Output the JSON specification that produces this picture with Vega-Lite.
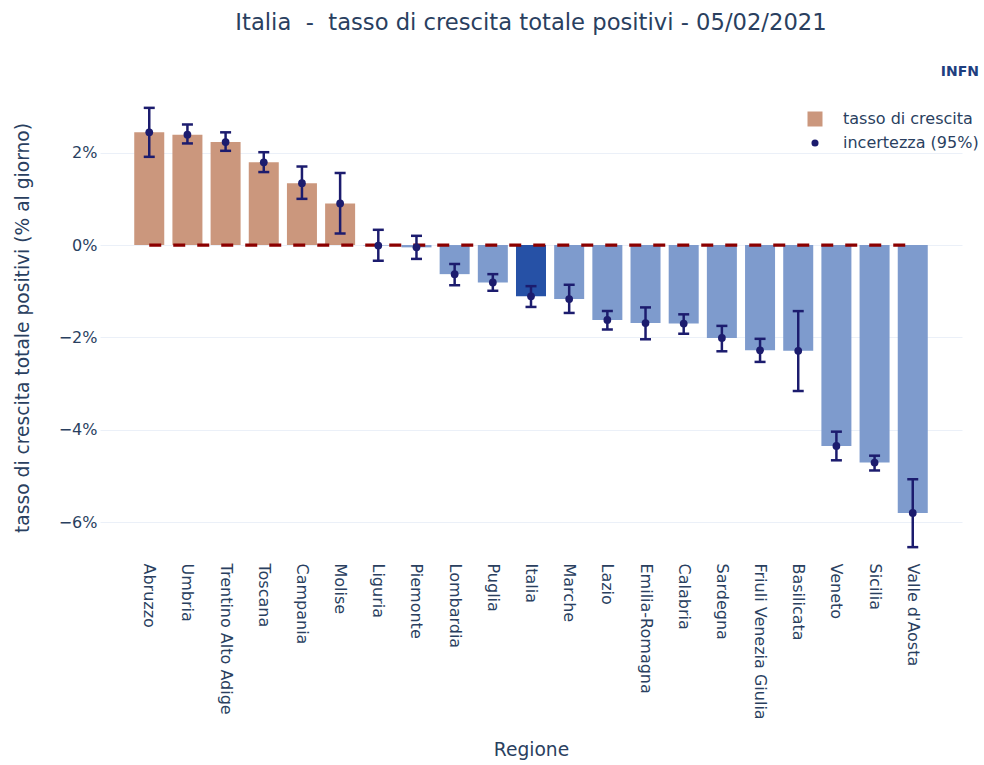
{
  "$schema": "https://vega.github.io/schema/vega-lite/v6.json",
  "width": 862,
  "height": 455,
  "autosize": {"type": "none"},
  "padding": {"left": 100, "top": 100, "right": 22, "bottom": 210},
  "background": "white",
  "title": {
    "text": "Italia\u00a0 -\u00a0 tasso di crescita totale positivi - 05/02/2021",
    "anchor": "middle",
    "font": "DejaVu Sans",
    "fontSize": 22.67,
    "fontWeight": "normal",
    "color": "#2a3f5f",
    "offset": 30
  },
  "config": {"view": {"stroke": null}, "font": "DejaVu Sans"},
  "data": {
    "values": [
      {"Regione": "Abruzzo", "tasso": 2.44, "lo": 1.91, "hi": 2.97},
      {"Regione": "Umbria", "tasso": 2.39, "lo": 2.20, "hi": 2.61},
      {"Regione": "Trentino Alto Adige", "tasso": 2.23, "lo": 2.04, "hi": 2.44},
      {"Regione": "Toscana", "tasso": 1.79, "lo": 1.58, "hi": 2.01},
      {"Regione": "Campania", "tasso": 1.34, "lo": 1.00, "hi": 1.70},
      {"Regione": "Molise", "tasso": 0.90, "lo": 0.25, "hi": 1.56},
      {"Regione": "Liguria", "tasso": -0.01, "lo": -0.34, "hi": 0.33},
      {"Regione": "Piemonte", "tasso": -0.05, "lo": -0.30, "hi": 0.20},
      {"Regione": "Lombardia", "tasso": -0.63, "lo": -0.87, "hi": -0.41},
      {"Regione": "Puglia", "tasso": -0.81, "lo": -0.99, "hi": -0.63},
      {"Regione": "Italia", "tasso": -1.11, "lo": -1.34, "hi": -0.89},
      {"Regione": "Marche", "tasso": -1.17, "lo": -1.47, "hi": -0.86},
      {"Regione": "Lazio", "tasso": -1.62, "lo": -1.83, "hi": -1.43},
      {"Regione": "Emilia-Romagna", "tasso": -1.69, "lo": -2.04, "hi": -1.35},
      {"Regione": "Calabria", "tasso": -1.70, "lo": -1.92, "hi": -1.50},
      {"Regione": "Sardegna", "tasso": -2.01, "lo": -2.30, "hi": -1.75},
      {"Regione": "Friuli Venezia Giulia", "tasso": -2.28, "lo": -2.53, "hi": -2.03},
      {"Regione": "Basilicata", "tasso": -2.29, "lo": -3.16, "hi": -1.43},
      {"Regione": "Veneto", "tasso": -4.35, "lo": -4.66, "hi": -4.04},
      {"Regione": "Sicilia", "tasso": -4.71, "lo": -4.88, "hi": -4.56},
      {"Regione": "Valle d'Aosta", "tasso": -5.80, "lo": -6.54, "hi": -5.07}
    ]
  },
  "encoding": {
    "x": {
      "field": "Regione",
      "type": "nominal",
      "sort": null,
      "scale": {"paddingInner": 0.214, "paddingOuter": 0.897},
      "axis": {
        "title": "Regione",
        "titleFont": "DejaVu Sans",
        "titleFontSize": 18.67,
        "titleFontWeight": "normal",
        "titleColor": "#2a3f5f",
        "titleY": 194,
        "titleBaseline": "middle",
        "labelAngle": 90,
        "labelAlign": "left",
        "labelBaseline": "middle",
        "labelFont": "DejaVu Sans",
        "labelFontSize": 16,
        "labelColor": "#2a3f5f",
        "labelPadding": 8,
        "ticks": false,
        "tickSize": 0,
        "domain": false,
        "grid": false
      }
    }
  },
  "layer": [
    {
      "mark": {"type": "bar", "opacity": 1},
      "encoding": {
        "y": {
          "field": "tasso",
          "type": "quantitative",
          "title": "tasso di crescita totale positivi (% al giorno)",
          "scale": {"domain": [-6.71, 3.14], "nice": false, "zero": false},
          "axis": {
            "title": "tasso di crescita totale positivi (% al giorno)",
            "titleFont": "DejaVu Sans",
            "titleFontSize": 18.67,
            "titleFontWeight": "normal",
            "titleColor": "#2a3f5f",
            "titleX": -78,
            "titleY": 227.5,
            "titleBaseline": "middle",
            "values": [-6, -4, -2, 0, 2],
            "labelExpr": "format(datum.value, 'd') + '%'",
            "labelFont": "DejaVu Sans",
            "labelFontSize": 16,
            "labelColor": "#2a3f5f",
            "labelPadding": 3,
            "ticks": false,
            "tickSize": 0,
            "domain": false,
            "grid": true,
            "gridColor": "#ebf0f8",
            "gridWidth": 1
          }
        },
        "color": {
          "condition": [
            {"test": "datum.Regione === 'Italia'", "value": "#2651a6"},
            {"test": "datum.tasso < 0", "value": "#7e9bcd"}
          ],
          "datum": "tasso di crescita",
          "scale": {
            "domain": ["tasso di crescita", "incertezza (95%)"],
            "range": ["#cb977d", "#1c1c6e"]
          },
          "legend": {
            "title": "INFN",
            "orient": "none",
            "legendX": 707,
            "legendY": -35,
            "titleAnchor": "end",
            "titleFont": "DejaVu Sans",
            "titleFontSize": 14,
            "titleFontWeight": "bold",
            "titleColor": "#1f3f7f",
            "titlePadding": 32,
            "labelFont": "DejaVu Sans",
            "labelFontSize": 16,
            "labelColor": "#2a3f5f",
            "labelOffset": 20,
            "symbolType": {"expr": "datum.value === 'incertezza (95%)' ? 'circle' : 'square'"},
            "symbolSize": {"expr": "datum.value === 'incertezza (95%)' ? 50 : 225"},
            "symbolStrokeWidth": 0,
            "rowPadding": 8,
            "padding": 0
          }
        }
      }
    },
    {
      "mark": {"type": "line", "color": "#8b0000", "strokeWidth": 3.3, "strokeDash": [12, 12]},
      "encoding": {
        "y": {"datum": 0, "type": "quantitative"},
        "order": {"value": null}
      }
    },
    {
      "mark": {"type": "rule", "color": "#1c1c6e", "strokeWidth": 2.5},
      "encoding": {
        "y": {"field": "lo", "type": "quantitative", "title": "tasso di crescita totale positivi (% al giorno)"},
        "y2": {"field": "hi"}
      }
    },
    {
      "mark": {"type": "tick", "color": "#1c1c6e", "thickness": 2.5, "size": 11, "orient": "horizontal", "opacity": 1},
      "encoding": {
        "y": {"field": "lo", "type": "quantitative", "title": "tasso di crescita totale positivi (% al giorno)"}
      }
    },
    {
      "mark": {"type": "tick", "color": "#1c1c6e", "thickness": 2.5, "size": 11, "orient": "horizontal", "opacity": 1},
      "encoding": {
        "y": {"field": "hi", "type": "quantitative", "title": "tasso di crescita totale positivi (% al giorno)"}
      }
    },
    {
      "mark": {"type": "circle", "color": "#1c1c6e", "size": 60, "opacity": 1},
      "encoding": {
        "y": {"field": "tasso", "type": "quantitative", "title": "tasso di crescita totale positivi (% al giorno)"}
      }
    }
  ]
}
